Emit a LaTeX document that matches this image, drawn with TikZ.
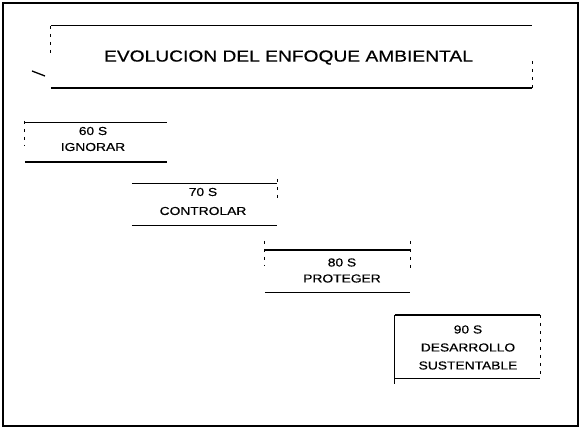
\documentclass[tikz,border=0pt]{standalone}
\usepackage{fontspec}
\setmainfont{Liberation Sans}[FakeStretch=1.2,FakeBold=0.6]
\begin{document}
\begin{tikzpicture}[x=1pt,y=-1pt,
  frameline/.style={line width=1.7pt},
  edge/.style={line width=1.4pt},
  side/.style={line width=1pt, dash pattern=on 3pt off 5pt},
  boxnode/.style={rectangle, inner sep=0pt, align=center,
    font=\fontsize{11.5}{16}\selectfont},
  titlenode/.style={rectangle, inner sep=0pt, font=\fontsize{16}{18}\selectfont}]
\useasboundingbox (0,0) rectangle (582,428);
\fill[white] (0,0) rectangle (582,428);
% outer frame
\draw[frameline] (3,3) rectangle (578,426);
% title box
\node[titlenode, minimum width=481pt, minimum height=62pt] (title) at (291.5,57) {};
\node[titlenode] (titletext) at (288.5,57.5) {EVOLUCION DEL ENFOQUE AMBIENTAL};
\draw[edge] (title.north west) -- (title.north east);
\draw[edge] (title.south west) -- (title.south east);
\draw[side] (title.north west) -- (title.west);
\draw[side] ([yshift=-4pt]title.east) -- (title.south east);
\draw[line width=1.3pt] (32,71) -- (45,76);
% box 1
\node[boxnode, minimum width=142pt, minimum height=39pt] (b1) at (96,142.5) {};
\node[boxnode] (t1) at (93,139) {60 S\\IGNORAR};
\draw[edge] (b1.north west) -- (b1.north east);
\draw[edge] (b1.south west) -- (b1.south east);
\draw[side] ([yshift=2pt]b1.north west) -- ([yshift=-4pt]b1.west);
% box 2
\node[boxnode, minimum width=145pt, minimum height=41pt] (b2) at (204.5,204.5) {};
\node[boxnode] (t2) at (203,201.5) {70 S\\[3pt]CONTROLAR};
\draw[edge] (b2.north west) -- (b2.north east);
\draw[edge] (b2.south west) -- (b2.south east);
\draw[side] ([yshift=5pt]b2.north east) -- ([yshift=2pt]b2.east);
% box 3
\node[boxnode, minimum width=145pt, minimum height=42pt] (b3) at (337.5,271) {};
\node[boxnode] (t3) at (342,270.5) {80 S\\PROTEGER};
\draw[edge] (b3.north west) -- (b3.north east);
\draw[edge] (b3.south west) -- (b3.south east);
\draw[side] ([yshift=9pt]b3.north west) -- ([yshift=5pt]b3.west);
\draw[side] ([yshift=9pt]b3.north east) -- (b3.east);
% box 4
\node[boxnode, minimum width=145pt, minimum height=63pt] (b4) at (467.5,346.5) {};
\node[boxnode] (t4) at (468,347.5) {90 S\\[2pt]DESARROLLO\\[2pt]SUSTENTABLE};
\draw[edge] (b4.north west) -- (b4.north east);
\draw[edge] (b4.south west) -- (b4.south east);
\draw[line width=1.1pt] (b4.north west) -- ([yshift=-6pt]b4.south west);
\draw[side] (b4.north east) -- (b4.south east);
\end{tikzpicture}
\end{document}
